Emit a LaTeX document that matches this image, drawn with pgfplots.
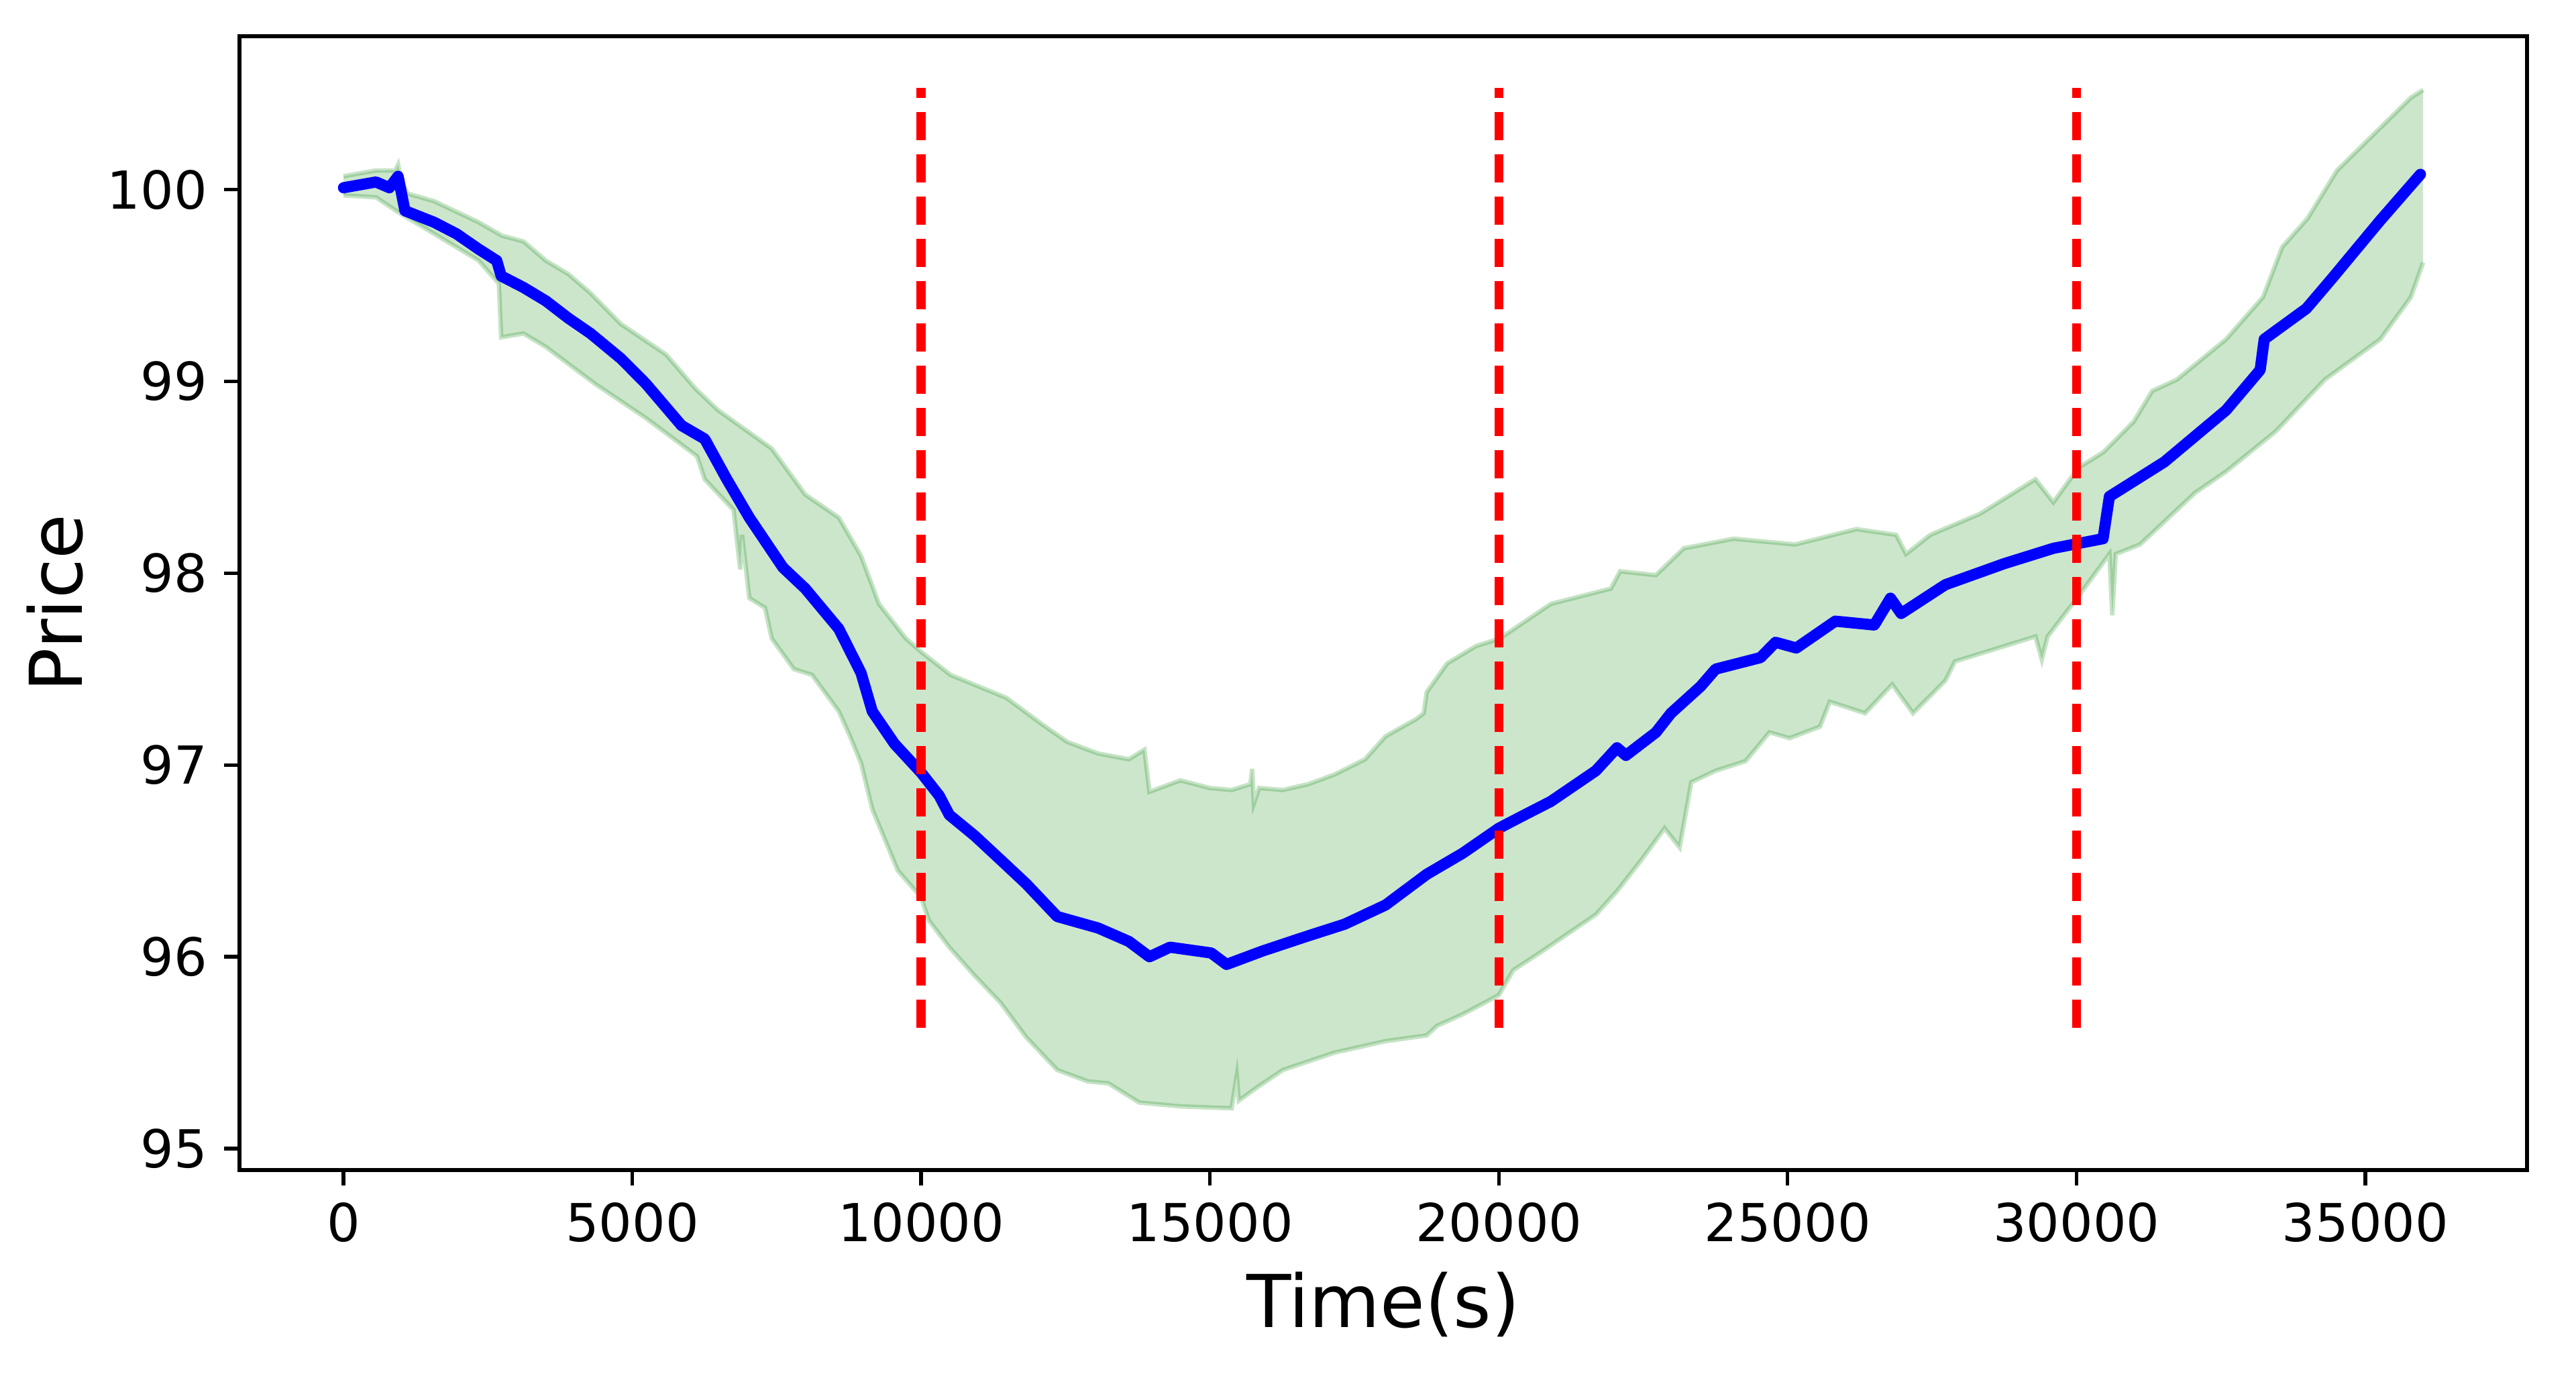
\documentclass[border=0pt]{standalone}
\usepackage{fontspec}
\setmainfont{DejaVu Sans}
\usepackage{pgfplots}
\usepackage{pgfplotstable}
\pgfplotsset{compat=1.18}
\usepgfplotslibrary{fillbetween}
\definecolor{mplgreen}{HTML}{008000}

\pgfplotstableread{
x y
0 100.07
563 100.10
900 100.10
946 100.13
1000 100.05
1104 99.98
1569 99.94
2340 99.83
2744 99.76
3117 99.73
3503 99.63
3892 99.56
4278 99.46
4800 99.30
5586 99.14
6100 98.96
6485 98.85
7413 98.65
7994 98.41
8575 98.29
8960 98.09
9270 97.84
9735 97.66
10000 97.59
10508 97.47
11477 97.35
12058 97.22
12532 97.12
13064 97.06
13597 97.03
13865 97.08
13952 96.86
14486 96.92
15000 96.88
15375 96.87
15700 96.90
15731 96.98
15760 96.80
15850 96.88
16264 96.87
16700 96.90
17153 96.95
17686 97.03
18040 97.15
18573 97.24
18700 97.27
18752 97.38
19107 97.53
19605 97.62
20020 97.66
20900 97.84
21940 97.92
22100 98.01
22720 97.99
23204 98.13
24064 98.18
25130 98.15
26190 98.23
26880 98.20
27050 98.10
27470 98.20
28330 98.31
29290 98.49
29600 98.37
30034 98.55
30460 98.63
30990 98.79
31310 98.95
31740 99.01
32590 99.22
33230 99.44
33560 99.70
34000 99.85
34510 100.10
35150 100.29
35790 100.48
36000 100.52
}\uppertab

\pgfplotstableread{
x y
0 99.97
563 99.96
960 99.88
1569 99.77
2340 99.63
2690 99.51
2730 99.23
3117 99.25
3503 99.18
4343 98.99
5230 98.81
6120 98.61
6253 98.49
6752 98.33
6868 98.02
6900 98.20
7026 97.87
7297 97.82
7413 97.66
7797 97.50
8110 97.47
8575 97.28
8768 97.15
8960 97.01
9154 96.77
9596 96.45
10000 96.31
10133 96.19
10487 96.05
10931 95.90
11376 95.76
11820 95.58
12355 95.41
12887 95.35
13242 95.34
13775 95.24
14486 95.22
15375 95.21
15464 95.38
15500 95.25
15820 95.32
16264 95.41
17153 95.50
18040 95.56
18752 95.59
18930 95.64
19375 95.70
20000 95.80
20250 95.93
20707 96.02
21680 96.22
22040 96.34
22456 96.50
22870 96.67
23130 96.57
23332 96.91
23753 96.97
24270 97.02
24685 97.17
25035 97.14
25560 97.20
25730 97.33
26340 97.27
26810 97.42
27170 97.27
27730 97.44
27897 97.54
29290 97.67
29400 97.55
29500 97.67
30034 97.88
30570 98.10
30620 97.78
30680 98.10
31100 98.15
32055 98.42
32590 98.53
33450 98.74
34300 99.01
35260 99.22
35790 99.44
36000 99.62
}\lowertab

\pgfplotstableread{
x y
0 100.01
563 100.04
795 100.01
946 100.07
1064 99.89
1569 99.83
1955 99.77
2340 99.69
2653 99.63
2730 99.55
3117 99.49
3503 99.42
3892 99.33
4278 99.25
4800 99.12
5230 98.99
5853 98.77
6253 98.70
6636 98.49
7026 98.29
7607 98.03
7994 97.92
8575 97.71
8960 97.48
9154 97.28
9540 97.11
10000 96.96
10313 96.84
10487 96.74
10931 96.63
11466 96.48
11820 96.38
12355 96.21
13064 96.15
13597 96.08
13952 96.00
14308 96.05
15020 96.02
15287 95.96
15909 96.03
16709 96.11
17331 96.17
18040 96.27
18752 96.43
19375 96.54
20000 96.67
20382 96.73
20900 96.81
21680 96.97
22046 97.09
22200 97.05
22720 97.17
22980 97.27
23494 97.41
23753 97.50
24530 97.56
24790 97.64
25150 97.61
25825 97.75
26500 97.73
26780 97.87
26965 97.79
27730 97.94
28750 98.05
29602 98.13
30460 98.18
30570 98.40
31520 98.58
32590 98.85
33180 99.06
33250 99.22
33980 99.38
34432 99.54
35260 99.84
35955 100.08
}\meantab

\begin{document}
\begin{tikzpicture}
\begin{axis}[
  scale only axis, width=511.5bp, height=253.5bp,
  xmin=-1800, xmax=37800, ymin=94.888, ymax=100.80,
  axis line style={line width=0.8bp},
  every tick/.style={black, line width=0.8bp},
  major tick length=3.5bp,
  tick align=outside, tick pos=left,
  xtick={0,5000,...,35000}, ytick={95,96,...,100},
  scaled x ticks=false,
  /pgf/number format/assume math mode=true,
  /pgf/number format/set thousands separator={},
  ticklabel style={font=\fontsize{11.7bp}{14bp}\selectfont, inner sep=0pt},
  xticklabel style={anchor=north, yshift=-3.65bp},
  yticklabel style={anchor=east, xshift=-3.55bp},
  clip=false,
]
\addplot[name path=U, mplgreen, draw opacity=0.22, line width=1bp] table {\uppertab};
\addplot[name path=L, mplgreen, draw opacity=0.22, line width=1bp] table {\lowertab};
\addplot[fill=mplgreen, fill opacity=0.2, draw=none] fill between[of=U and L];
\addplot[blue, line width=2.5bp, line join=round, line cap=round] table {\meantab};
\addplot[red, line width=2bp, dash pattern=on 6.3bp off 3.15bp] coordinates {(10000,95.63) (10000,100.53)};
\addplot[red, line width=2bp, dash pattern=on 6.3bp off 3.15bp] coordinates {(20000,95.63) (20000,100.53)};
\addplot[red, line width=2bp, dash pattern=on 6.3bp off 3.15bp] coordinates {(30000,95.63) (30000,100.53)};
\coordinate (SW) at (rel axis cs:0,0);
\coordinate (NE) at (rel axis cs:1,1);
\coordinate (W) at (rel axis cs:0,0.5);
\coordinate (S) at (rel axis cs:0.5,0);
\end{axis}
\node[anchor=base, font=\fontsize{16.3bp}{19bp}\selectfont] at ([yshift=-35.1bp]S) {Time(s)};
\node[anchor=base, rotate=90, font=\fontsize{16.3bp}{19bp}\selectfont] at ([xshift=-35.25bp]W) {Price};
\pgfresetboundingbox
\useasboundingbox ([shift={(-53.55bp,-45.6bp)}]SW) rectangle ([shift={(10.95bp,8.1bp)}]NE);
\end{tikzpicture}
\end{document}
